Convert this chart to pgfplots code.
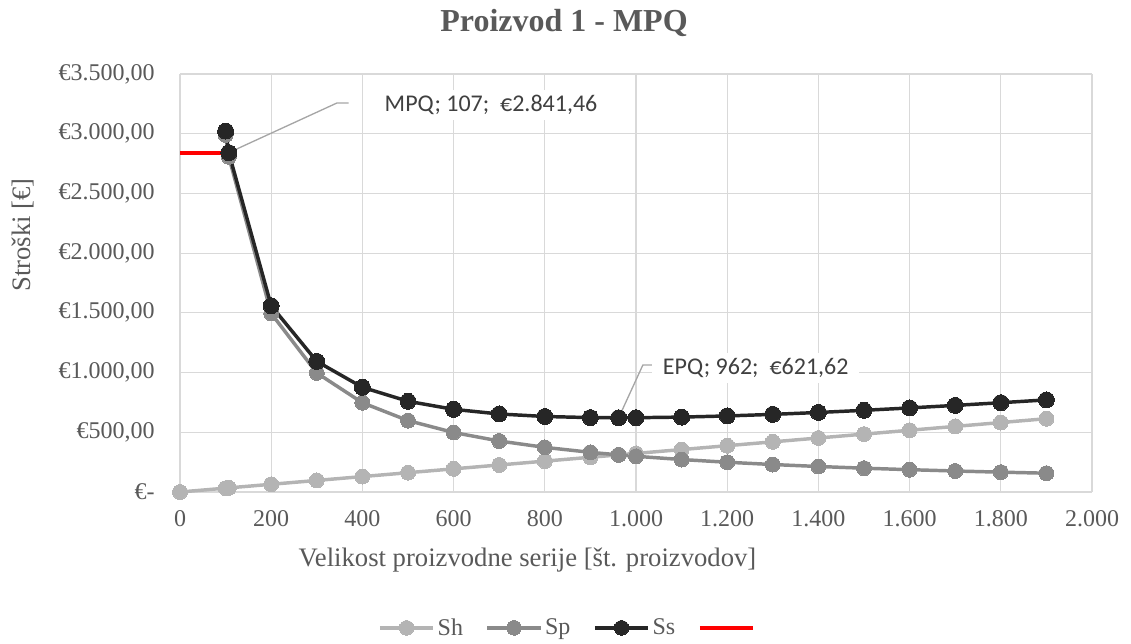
\documentclass[border=0pt]{standalone}
\usepackage{pgfplots}
\pgfplotsset{compat=1.18}
\usepackage{fontspec}
\setmainfont{Liberation Serif}
\newfontfamily\calibri{Carlito}
\definecolor{gridc}{HTML}{D9D9D9}
\definecolor{textg}{HTML}{595959}
\definecolor{labg}{HTML}{404040}
\definecolor{shc}{HTML}{B4B4B4}
\definecolor{spc}{HTML}{8A8A8A}
\definecolor{ssc}{HTML}{262626}
\definecolor{leadc}{HTML}{A6A6A6}
\begin{document}
\begin{tikzpicture}
\useasboundingbox (0,0) rectangle (848.25pt,482.25pt);
\begin{axis}[
  at={(135pt,113.25pt)}, anchor=south west,
  scale only axis, width=684pt, height=313.5pt,
  xmin=0, xmax=2000, ymin=0, ymax=3500,
  xtick={0,200,...,2000}, ytick={0,500,...,3500},
  xticklabels={0,200,400,600,800,1.000,1.200,1.400,1.600,1.800,2.000},
  yticklabels={{€-},{€500,00},{€1.000,00},{€1.500,00},{€2.000,00},{€2.500,00},{€3.000,00},{€3.500,00}},
  /pgf/number format/assume math mode=true,
  grid=major, grid style={gridc, line width=0.9pt},
  axis line style={draw=none}, tick style={draw=none},
  ticklabel style={font=\fontsize{18}{22}\selectfont, text=textg},
  yticklabel style={xshift=-15.5pt},
  xticklabel style={yshift=-10pt},
  xlabel={Velikost proizvodne serije [št. proizvodov]},
  xlabel style={at={(axis description cs:0.381,-0.163)}, anchor=center, font=\fontsize{20}{24}\selectfont, text=textg},
  ylabel={Stroški [€]},
  ylabel style={at={(axis description cs:-0.172,0.615)}, anchor=center, rotate=0, font=\fontsize{20}{24}\selectfont, text=textg},
  legend style={at={(axis description cs:0.427,-0.325)}, anchor=center, draw=none, fill=none,
    legend columns=4, font=\fontsize{18}{22}\selectfont, text=textg,
    /tikz/every even column/.append style={column sep=15pt}},
  legend image code/.code={
    \draw[#1, mark=none] (0pt,0pt) -- (40pt,0pt);
    \draw[#1, mark size=5.5pt] plot coordinates {(20pt,0pt)};
  },
  clip=false,
]
\addplot[shc, line width=2.6pt, mark=*, mark size=5.6pt, mark options={fill=shc, draw=shc, line width=0pt}] coordinates {
(0,0) (100,32.3) (107,34.6) (200,64.6) (300,96.9) (400,129.2) (500,161.6) (600,193.9) (700,226.2) (800,258.5) (900,290.8) (962,310.8) (1000,323.1) (1100,355.4) (1200,387.7) (1300,420.0) (1400,452.3) (1500,484.7) (1600,517.0) (1700,549.3) (1800,581.6) (1900,613.9)};
\addlegendentry{Sh}
\addplot[spc, line width=2.6pt, mark=*, mark size=5.6pt, mark options={fill=spc, draw=spc, line width=0pt}] coordinates {
(100,2990) (107,2806.9) (200,1495) (300,996.7) (400,747.5) (500,598) (600,498.3) (700,427.1) (800,373.8) (900,332.2) (962,310.8) (1000,299) (1100,271.8) (1200,249.2) (1300,230) (1400,213.6) (1500,199.3) (1600,186.9) (1700,175.9) (1800,166.1) (1900,157.4)};
\addlegendentry{Sp}
\addplot[ssc, line width=2.6pt, mark=*, mark size=6pt, mark options={fill=ssc, draw=ssc, line width=0pt}] coordinates {
(100,3022.3) (107,2841.46) (200,1559.6) (300,1093.6) (400,876.7) (500,759.6) (600,692.2) (700,653.3) (800,632.3) (900,623.0) (962,621.62) (1000,622.1) (1100,627.2) (1200,636.9) (1300,650.0) (1400,665.9) (1500,684.0) (1600,703.9) (1700,725.2) (1800,747.7) (1900,771.3)};
\addlegendentry{Ss}
\addplot[red, line width=3pt, mark=none] coordinates {(0,2841.46) (107,2841.46)};
\addlegendentry{}
\draw[leadc, line width=1pt] (axis cs:107,2841.46) -- (axis cs:344,3257) -- (axis cs:370,3257);
\node[anchor=base west, fill=white, inner xsep=8pt, inner ysep=4pt, font=\calibri\fontsize{18}{22}\selectfont, text=labg] at (axis cs:425,3182) {MPQ; 107;\ \ €2.841,46};
\draw[leadc, line width=1pt] (axis cs:962,621.62) -- (axis cs:1015,1063) -- (axis cs:1037,1063);
\node[anchor=base west, fill=white, inner xsep=8pt, inner ysep=4pt, font=\calibri\fontsize{18}{22}\selectfont, text=labg] at (axis cs:1035,980) {EPQ; 962;\ \ €621,62};
\end{axis}
\node[font=\fontsize{24}{28}\selectfont\bfseries, text=textg] at (423pt,465pt) {Proizvod 1 - MPQ};
\end{tikzpicture}
\end{document}
